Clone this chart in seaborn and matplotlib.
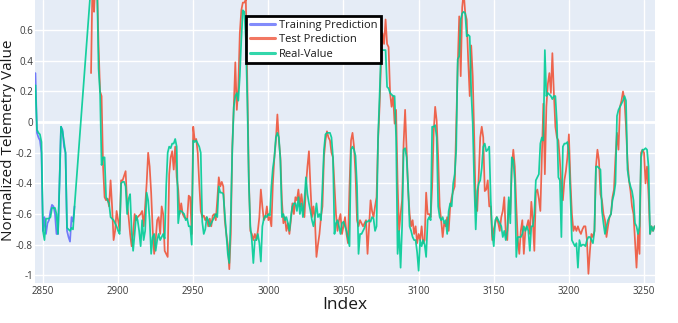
import matplotlib
matplotlib.use("Agg")
import matplotlib.pyplot as plt
import seaborn as sns
import pandas as pd

# ---------------- data ----------------
series_names = ["Training Prediction", "Test Prediction", "Real-Value"]
series_colors = ["#636EFA", "#EF553B", "#00CC96"]

train_start = 2844
train_values = [
    0.20, 0.32, -0.07, -0.10, -0.12, -0.20, -0.71, -0.62, -0.73, -0.66,
    -0.64, -0.58, -0.54, -0.55, -0.60, -0.73, -0.73, -0.40, -0.03, -0.05,
    -0.16, -0.20, -0.71, -0.75, -0.78, -0.62, -0.65, -0.55,
]

real_head_start = 2844
real_head_values = [
    0.22, 0.24, -0.05, -0.07, -0.08, -0.13, -0.71, -0.77, -0.63, -0.63,
    -0.63, -0.62, -0.56, -0.56, -0.56, -0.60, -0.73, -0.40, -0.03, -0.06,
    -0.13, -0.20, -0.69, -0.70, -0.71, -0.69, -0.70, -0.55,
]

real_tail_start = 2882
real_tail_values = [
    0.90, 1.00, 1.05, 1.00, 0.90, 0.35, 0.19, -0.28, -0.23, -0.23,
    -0.49, -0.51, -0.53, -0.62, -0.63, -0.64, -0.66, -0.68, -0.71, -0.73,
    -0.40, -0.39, -0.39, -0.42, -0.60, -0.50, -0.47, -0.71, -0.84, -0.73,
    -0.61, -0.64, -0.71, -0.81, -0.64, -0.77, -0.71, -0.46, -0.51, -0.64,
    -0.86, -0.75, -0.73, -0.84, -0.77, -0.73, -0.77, -0.75, -0.73, -0.76,
    -0.42, -0.20, -0.16, -0.17, -0.14, -0.14, -0.11, -0.16, -0.66, -0.58,
    -0.58, -0.59, -0.60, -0.64, -0.63, -0.68, -0.68, -0.80, -0.12, -0.13,
    -0.12, -0.14, -0.16, -0.20, -0.65, -0.73, -0.70, -0.62, -0.64, -0.68,
    -0.66, -0.64, -0.62, -0.60, -0.62, -0.42, -0.46, -0.46, -0.47, -0.60,
    -0.73, -0.86, -0.92, -0.60, -0.18, 0.10, 0.17, 0.19, 0.14, 0.30,
    0.54, 0.73, 0.72, 0.54, 0.14, -0.40, -0.68, -0.77, -0.92, -0.77,
    -0.77, -0.73, -0.79, -0.91, -0.68, -0.63, -0.61, -0.62, -0.60, -0.61,
    -0.42, -0.30, -0.23, -0.10, -0.07, -0.10, -0.25, -0.62, -0.60, -0.64,
    -0.62, -0.66, -0.71, -0.62, -0.55, -0.53, -0.53, -0.58, -0.49, -0.60,
    -0.53, -0.62, -0.51, -0.36, -0.47, -0.53, -0.58, -0.64, -0.68, -0.62,
    -0.53, -0.62, -0.60, -0.64, -0.42, -0.18, -0.08, -0.07, -0.07, -0.07,
    -0.10, -0.23, -0.73, -0.66, -0.64, -0.68, -0.73, -0.66, -0.65, -0.68,
    -0.71, -0.76, -0.81, -0.18, -0.16, -0.18, -0.22, -0.42, -0.86, -0.73,
    -0.73, -0.71, -0.69, -0.65, -0.65, -0.64, -0.65, -0.62, -0.63, -0.71,
    -0.68, -0.10, 0.17, 0.47, 0.47, 0.47, 0.47, 0.23, 0.22, 0.19,
    0.18, 0.17, 0.17, -0.10, -0.86, -0.71, -0.95, -0.68, -0.18, -0.17,
    -0.23, -0.42, -0.68, -0.71, -0.75, -0.77, -0.77, -0.85, -0.97, -0.77,
    -0.81, -0.77, -0.80, -0.88, -0.64, -0.62, -0.64, -0.03, -0.03, -0.02,
    -0.10, -0.55, -0.62, -0.64, -0.62, -0.66, -0.64, -0.73, -0.58, -0.53,
    -0.55, -0.40, -0.34, -0.18, 0.41, 0.43, 0.67, 0.71, 0.72, 0.71,
    0.56, 0.57, 0.56, 0.20, -0.01, -0.40, -0.70, -0.45, -0.40, -0.38,
    -0.30, -0.16, -0.14, -0.19, -0.18, -0.16, -0.51, -0.73, -0.81, -0.64,
    -0.62, -0.64, -0.66, -0.68, -0.75, -0.71, -0.77, -0.71, -0.49, -0.66,
    -0.23, -0.25, -0.38, -0.88, -0.75, -0.75, -0.75, -0.73, -0.68, -0.71,
    -0.68, -0.71, -0.84, -0.68, -0.68, -0.60, -0.38, -0.36, -0.34, -0.14,
    -0.10, -0.12, 0.47, 0.17, 0.19, 0.18, 0.17, 0.15, 0.17, 0.17,
    0.00, -0.36, -0.38, -0.75, -0.16, -0.14, -0.14, -0.13, -0.20, -0.49,
    -0.77, -0.79, -0.81, -0.79, -0.95, -0.77, -0.81, -0.80, -0.80, -0.81,
    -0.77, -0.75, -0.75, -0.77, -0.79, -0.71, -0.29, -0.29, -0.30, -0.31,
    -0.58, -0.66, -0.73, -0.68, -0.64, -0.62, -0.60, -0.51, -0.47, -0.40,
    0.04, 0.08, 0.10, 0.12, 0.14, 0.17, 0.14, -0.31, -0.38, -0.42,
    -0.45, -0.51, -0.66, -0.68, -0.73, -0.68, -0.23, -0.18, -0.18, -0.17,
    -0.18, -0.29, -0.73, -0.68, -0.71, -0.68,
]

test_start = 2882
test_values = [
    0.32, 0.95, 0.72, 0.95, 0.90, 0.50, 0.20, 0.17, -0.29, -0.49,
    -0.51, -0.50, -0.55, -0.38, -0.55, -0.77, -0.71, -0.58, -0.64, -0.71,
    -0.38, -0.38, -0.35, -0.32, -0.53, -0.62, -0.73, -0.81, -0.73, -0.60,
    -0.64, -0.62, -0.61, -0.60, -0.58, -0.68, -0.55, -0.40, -0.20, -0.29,
    -0.46, -0.70, -0.86, -0.77, -0.64, -0.62, -0.73, -0.55, -0.60, -0.84,
    -0.86, -0.88, -0.34, -0.23, -0.19, -0.31, -0.16, -0.36, -0.44, -0.60,
    -0.53, -0.60, -0.62, -0.63, -0.63, -0.48, -0.49, -0.73, -0.03, -0.12,
    -0.11, -0.20, -0.40, -0.58, -0.62, -0.61, -0.64, -0.62, -0.68, -0.63,
    -0.68, -0.61, -0.60, -0.64, -0.51, -0.36, -0.42, -0.39, -0.42, -0.64,
    -0.73, -0.80, -0.96, -0.73, -0.16, 0.10, 0.39, 0.08, 0.23, 0.58,
    0.73, 0.78, 0.78, 0.80, 0.25, -0.36, -0.71, -0.73, -0.77, -0.73,
    -0.77, -0.71, -0.62, -0.44, -0.55, -0.64, -0.62, -0.55, -0.64, -0.62,
    -0.68, -0.40, -0.23, -0.12, 0.05, -0.12, -0.23, -0.51, -0.66, -0.62,
    -0.71, -0.66, -0.73, -0.64, -0.53, -0.60, -0.49, -0.51, -0.44, -0.55,
    -0.47, -0.55, -0.62, -0.42, -0.29, -0.19, -0.42, -0.62, -0.55, -0.64,
    -0.88, -0.80, -0.73, -0.62, -0.55, -0.23, -0.12, -0.06, -0.10, -0.12,
    -0.20, -0.23, -0.42, -0.60, -0.71, -0.64, -0.60, -0.73, -0.68, -0.62,
    -0.73, -0.79, -0.42, -0.12, -0.07, -0.16, -0.34, -0.64, -0.68, -0.64,
    -0.66, -0.68, -0.66, -0.64, -0.86, -0.68, -0.51, -0.58, -0.62, -0.55,
    -0.49, -0.12, 0.10, 0.40, 0.58, 0.51, 0.67, 0.51, 0.49, 0.19,
    0.10, 0.17, -0.01, 0.08, -0.40, -0.71, -0.60, -0.51, -0.14, 0.08,
    -0.18, -0.44, -0.60, -0.68, -0.64, -0.73, -0.68, -0.79, -0.73, -0.77,
    -0.68, -0.79, -0.77, -0.46, -0.60, -0.60, -0.62, -0.42, -0.07, 0.10,
    0.01, -0.23, -0.55, -0.64, -0.75, -0.66, -0.68, -0.62, -0.71, -0.55,
    -0.49, -0.45, -0.42, -0.03, 0.36, 0.69, 0.30, 0.75, 0.85, 0.71,
    0.67, 0.40, 0.17, 0.50, 0.30, -0.10, -0.55, -0.58, -0.35, -0.10,
    -0.03, -0.10, -0.45, -0.44, -0.38, -0.55, -0.55, -0.77, -0.70, -0.66,
    -0.62, -0.66, -0.71, -0.62, -0.58, -0.49, -0.73, -0.77, -0.51, -0.60,
    -0.30, -0.18, -0.29, -0.55, -0.77, -0.86, -0.71, -0.64, -0.86, -0.71,
    -0.68, -0.64, -0.73, -0.52, -0.64, -0.84, -0.46, -0.44, -0.50, -0.58,
    -0.23, 0.12, -0.34, 0.10, 0.25, 0.32, 0.19, 0.45, 0.19, -0.03,
    -0.10, -0.12, -0.25, -0.42, -0.51, -0.38, -0.32, -0.23, -0.08, -0.38,
    -0.60, -0.71, -0.68, -0.71, -0.68, -0.71, -0.73, -0.70, -0.68, -0.68,
    -0.77, -0.99, -0.84, -0.73, -0.75, -0.71, -0.29, -0.18, -0.25, -0.47,
    -0.51, -0.60, -0.64, -0.75, -0.68, -0.62, -0.60, -0.49, -0.44, -0.23,
    -0.07, -0.18, 0.10, 0.14, 0.20, 0.14, -0.03, -0.25, -0.38, -0.45,
    -0.55, -0.60, -0.77, -0.95, -0.73, -0.86, -0.20, -0.18, -0.20, -0.40,
    -0.29, -0.47, -0.73, -0.68, -0.71, -0.68,
]

x_ticks = [2850, 2900, 2950, 3000, 3050, 3100, 3150, 3200, 3250]
y_ticks = [-1.0, -0.8, -0.6, -0.4, -0.2, 0.0, 0.2, 0.4, 0.6]
y_tick_labels = ["-1", "-0.8", "-0.6", "-0.4", "-0.2", "0", "0.2", "0.4", "0.6"]
x_title = "Index"
y_title = "Normalized Telemetry Value"

# ---------------- build tables ----------------
train_df = pd.DataFrame({
    "Index": list(range(train_start, train_start + len(train_values))),
    "Value": train_values,
})
real_df = pd.DataFrame({
    "Index": list(range(real_head_start, real_head_start + len(real_head_values)))
    + list(range(real_tail_start, real_tail_start + len(real_tail_values))),
    "Value": real_head_values + real_tail_values,
})
test_df = pd.DataFrame({
    "Index": list(range(test_start, test_start + len(test_values))),
    "Value": test_values,
})

# ---------------- styling ----------------
sns.set_theme(style="darkgrid")
plt.rcParams["font.family"] = ["Open Sans", "DejaVu Sans"]
plt.rcParams["axes.unicode_minus"] = False

W, H = 678, 323
fig = plt.figure(figsize=(W / 100, H / 100), dpi=100)
fig.patch.set_facecolor("white")
ax = fig.add_axes([35 / W, 1 - 283 / H, 620 / W, 283 / H])
ax.set_facecolor("#E5ECF6")

lw = 1.25
for df, name, col in zip([train_df, test_df, real_df], series_names, series_colors):
    sns.lineplot(data=df, x="Index", y="Value", ax=ax, color=col, linewidth=lw,
                 alpha=0.9, label=name, estimator=None, sort=False)

ax.set_xlim(2844.7, 3257.3)
ax.set_ylim(-1.05, 0.797)

ax.set_xticks(x_ticks)
ax.set_xticklabels([str(t) for t in x_ticks])
ax.set_yticks(y_ticks)
ax.set_yticklabels(y_tick_labels)

ax.grid(True, color="white", linewidth=1.0)
ax.set_axisbelow(True)
ax.axhline(0, color="white", linewidth=2.0, zorder=1)
for s in ax.spines.values():
    s.set_visible(False)

tick_color = "#3a3a3a"
ax.tick_params(axis="both", length=0, labelsize=7.0, colors=tick_color)
ax.tick_params(axis="y", pad=1.5)
ax.tick_params(axis="x", pad=2)

ax.set_xlabel(x_title, fontsize=12.5, color="#1a1a1a")
ax.set_ylabel(y_title, fontsize=11, color="#1a1a1a")
ax.xaxis.set_label_coords(0.5, -0.05)
ax.yaxis.set_label_coords(-0.031, 0.505)

handles, labels = ax.get_legend_handles_labels()
leg = ax.legend(handles, labels, loc="upper left",
                bbox_to_anchor=(246 / W, 1 - 16 / H), bbox_transform=fig.transFigure,
                fontsize=8, frameon=True, fancybox=False, framealpha=1,
                edgecolor="black", facecolor="white", borderpad=0.35,
                labelspacing=0.3, handlelength=2.3, handletextpad=0.3,
                borderaxespad=0)
leg.get_frame().set_linewidth(2)
for h in leg.legend_handles:
    h.set_linewidth(2.2)
    h.set_alpha(0.8)
for t in leg.get_texts():
    t.set_color("#1a1a1a")

fig.savefig("out.png", dpi=100)
